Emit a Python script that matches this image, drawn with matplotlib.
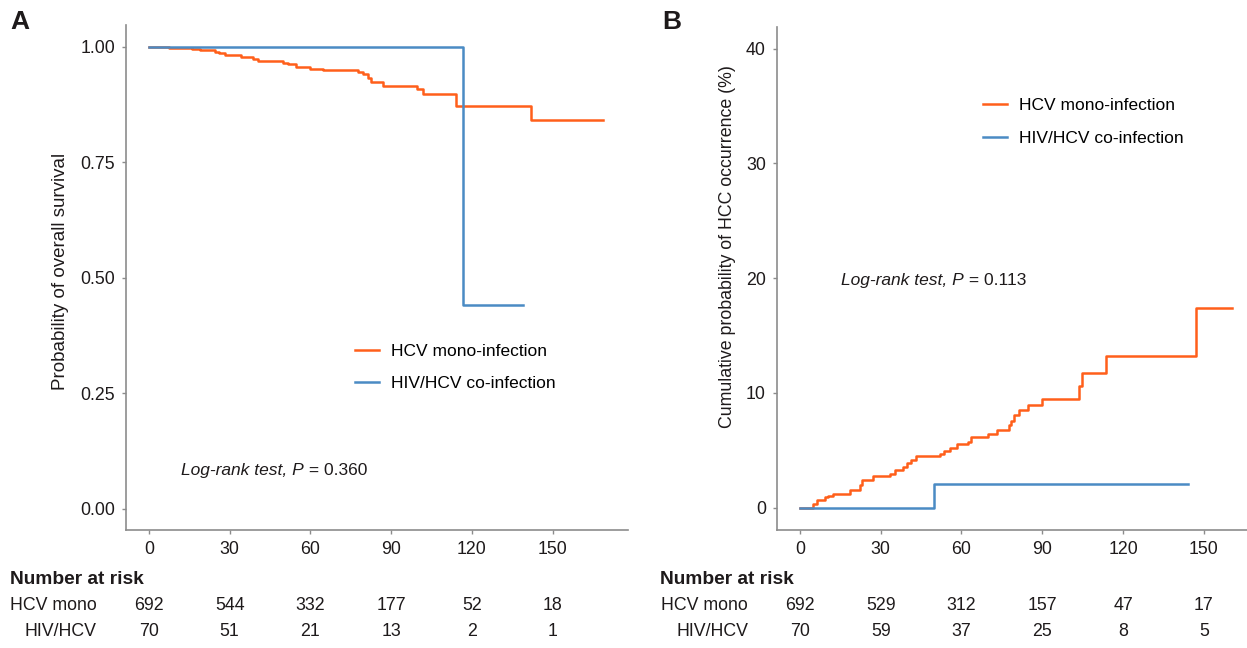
import matplotlib
matplotlib.use("Agg")
import matplotlib.pyplot as plt
import matplotlib.transforms as mtransforms

plt.rcParams['font.family'] = ['Liberation Sans', 'DejaVu Sans']
plt.rcParams['font.size'] = 12.5

# ---- data ----
months = [0, 30, 60, 90, 120, 150]

# A: overall survival
os_mono_t = [0, 7.5, 15.9, 19, 24.5, 26, 28.3, 34.4, 38.6, 40.5, 49.8, 51.7, 54.8,
             59.8, 64.7, 77.6, 79.5, 81.4, 82.7, 87, 99.5, 101.7, 114, 142.1, 168.6]
os_mono_s = [1.0, 0.997, 0.995, 0.992, 0.989, 0.986, 0.983, 0.978, 0.973, 0.970, 0.965,
             0.962, 0.957, 0.952, 0.949, 0.946, 0.941, 0.933, 0.923, 0.915, 0.908, 0.898,
             0.872, 0.842, 0.842]
os_co_t = [0, 116.7, 138.9]
os_co_s = [1.0, 0.44, 0.44]

# B: cumulative HCC occurrence (%)
hcc_mono_t = [0, 4.9, 6.4, 9.3, 10.6, 12.4, 18.6, 22.3, 22.9, 27.2, 33.4, 35.3, 38.1,
              39.6, 41.1, 43.1, 52.0, 53.5, 55.7, 58.4, 62.5, 63.7, 69.9, 73.0, 77.7,
              78.2, 79.6, 81.4, 84.8, 89.9, 103.6, 104.7, 113.8, 147.0, 160.3]
hcc_mono_p = [0, 0.3, 0.7, 0.9, 1.0, 1.16, 1.57, 2.0, 2.38, 2.73, 2.9, 3.25, 3.55,
              3.9, 4.2, 4.54, 4.7, 4.94, 5.23, 5.52, 5.7, 6.13, 6.4, 6.8, 7.2,
              7.56, 8.05, 8.49, 8.95, 9.48, 10.6, 11.72, 13.26, 17.39, 17.39]
hcc_co_t = [0, 49.9, 144.2]
hcc_co_p = [0, 2.09, 2.09]

risk_a_mono = [692, 544, 332, 177, 52, 18]
risk_a_co = [70, 51, 21, 13, 2, 1]
risk_b_mono = [692, 529, 312, 157, 47, 17]
risk_b_co = [70, 59, 37, 25, 8, 5]

orange = '#FF5F1A'
blue = '#4A8BC4'
spine_col = '#8C8C8C'
txt_col = '#1E1A1B'

W, H = 1247, 648
fig = plt.figure(figsize=(W / 100, H / 100), dpi=100)


def px_axes(x0, y0, x1, y1):
    return fig.add_axes([x0 / W, (H - y1) / H, (x1 - x0) / W, (y1 - y0) / H])


def style(ax):
    for s in ['top', 'right']:
        ax.spines[s].set_visible(False)
    for s in ['left', 'bottom']:
        ax.spines[s].set_color(spine_col)
        ax.spines[s].set_linewidth(1.2)
    ax.tick_params(colors=spine_col, labelcolor=txt_col, length=3, width=1, pad=5,
                   labelsize=12.8)


def risk_table(ax, mono, co, label_x0, label_x1):
    tr = mtransforms.blended_transform_factory(ax.transData, fig.transFigure)
    fig.text(label_x0 / W, (H - 579) / H, 'Number at risk', fontweight='bold',
             fontsize=13.8, va='center', ha='left', color=txt_col)
    fig.text(label_x1 / W, (H - 605) / H, 'HCV mono', va='center', ha='right',
             fontsize=12.8, color=txt_col)
    fig.text(label_x1 / W, (H - 632) / H, 'HIV/HCV', va='center', ha='right',
             fontsize=12.8, color=txt_col)
    for m, a, b in zip(months, mono, co):
        ax.text(m, (H - 605) / H, str(a), transform=tr, ha='center', va='center',
                fontsize=12.8, color=txt_col, clip_on=False)
        ax.text(m, (H - 632) / H, str(b), transform=tr, ha='center', va='center',
                fontsize=12.8, color=txt_col, clip_on=False)


def logrank(ax, x, y, pval):
    t1 = ax.text(x, y, 'Log-rank test, P', style='italic', transform=ax.transAxes,
                 ha='left', va='baseline', color=txt_col)
    ax.annotate(' = ' + pval, xy=(1, 0), xycoords=t1, ha='left', va='bottom',
                color=txt_col)


# ---- panel A ----
axA = px_axes(126, 25, 628, 530)
axA.step(os_mono_t, os_mono_s, where='post', color=orange, lw=1.8,
         label='HCV mono-infection')
axA.step(os_co_t, os_co_s, where='post', color=blue, lw=1.8,
         label='HIV/HCV co-infection')
axA.set_xlim(-8.5, 178)
axA.set_ylim(-0.046, 1.047)
axA.set_xticks(months)
axA.set_yticks([0, 0.25, 0.5, 0.75, 1.0])
axA.set_yticklabels(['0.00', '0.25', '0.50', '0.75', '1.00'])
axA.set_ylabel('Probability of overall survival', color=txt_col, fontsize=13.5)
axA.yaxis.set_label_coords(-0.114, 0.512)
style(axA)
axA.legend(loc='upper left', bbox_to_anchor=(355 / W, (H - 344) / H),
           bbox_transform=fig.transFigure, frameon=False, borderpad=0,
           borderaxespad=0, handlelength=1.4, handletextpad=0.7, labelspacing=0.95)
logrank(axA, (181 - 126) / 502, (530 - 475) / 505, '0.360')
risk_table(axA, risk_a_mono, risk_a_co, 10, 97)
fig.text(10 / W, (H - 22) / H, 'A', fontweight='bold', fontsize=19, va='center',
         ha='left', color=txt_col)

# ---- panel B ----
axB = px_axes(777, 27, 1247, 530)
axB.step(hcc_mono_t, hcc_mono_p, where='post', color=orange, lw=1.8,
         label='HCV mono-infection')
axB.step(hcc_co_t, hcc_co_p, where='post', color=blue, lw=1.8,
         label='HIV/HCV co-infection')
axB.set_xlim(-8.5, 166)
axB.set_ylim(-1.94, 41.88)
axB.set_xticks(months)
axB.set_yticks([0, 10, 20, 30, 40])
axB.set_ylabel('Cumulative probability of HCC occurrence (%)', color=txt_col,
               fontsize=12.8)
axB.yaxis.set_label_coords(-0.088, 0.563)
style(axB)
axB.legend(loc='upper left', bbox_to_anchor=(983 / W, (H - 98) / H),
           bbox_transform=fig.transFigure, frameon=False, borderpad=0,
           borderaxespad=0, handlelength=1.4, handletextpad=0.7, labelspacing=1.0)
logrank(axB, (841 - 777) / 470, (530 - 285) / 503, '0.113')
risk_table(axB, risk_b_mono, risk_b_co, 660, 748)
fig.text(662 / W, (H - 22) / H, 'B', fontweight='bold', fontsize=19, va='center',
         ha='left', color=txt_col)

fig.savefig('out.png', dpi=100)
